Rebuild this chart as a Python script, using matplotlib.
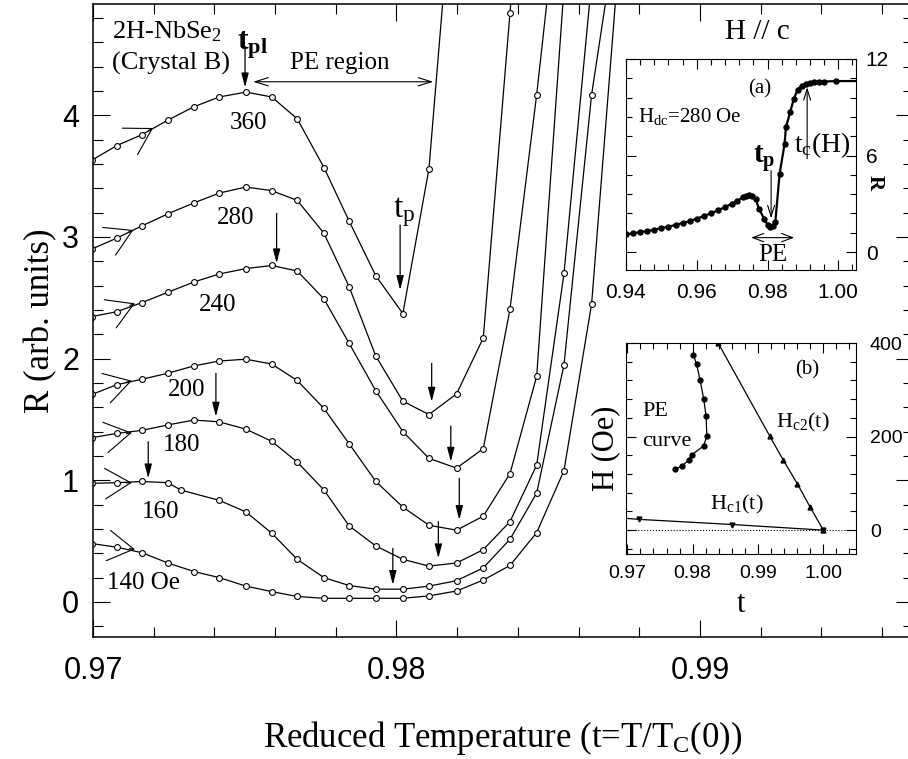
import math
import matplotlib
matplotlib.use('Agg')
import matplotlib.pyplot as plt
from matplotlib.ticker import MultipleLocator

plt.rcParams['font.family'] = ['Liberation Serif', 'DejaVu Serif']
plt.rcParams['mathtext.fontset'] = 'custom'
plt.rcParams['mathtext.rm'] = 'Liberation Serif'
plt.rcParams['mathtext.it'] = 'Liberation Serif:italic'
plt.rcParams['mathtext.bf'] = 'Liberation Serif:bold'
SANS = ['Liberation Sans Narrow', 'Liberation Sans', 'DejaVu Sans']

# main panel: R(t) at several dc fields (Oe)
t_grid = [0.96996, 0.97078, 0.97161, 0.97247, 0.97333, 0.97416, 0.97504,
          0.97589, 0.97673, 0.97761, 0.97844, 0.97932, 0.98021, 0.98107,
          0.98198, 0.98286, 0.98374, 0.98462, 0.98552, 0.98643, 0.98730]
t_160 = [0.96996, 0.97078, 0.97161, 0.97247, 0.97289, 0.97416, 0.97504,
         0.97589, 0.97673, 0.97761, 0.97844, 0.97932, 0.98021, 0.98107,
         0.98198, 0.98286, 0.98374, 0.98462, 0.98552, 0.98643, 0.98730]

r360 = [3.63, 3.75, 3.84, 3.96, 4.07, 4.15, 4.19, 4.15, 3.97, 3.57, 3.13,
        2.68, 2.37, 3.56, 6.3]
r280 = [2.90, 2.99, 3.09, 3.19, 3.28, 3.36, 3.41, 3.38, 3.30, 3.03, 2.59,
        2.02, 1.65, 1.54, 1.71, 2.17, 4.84, 7.5]
r240 = [2.345, 2.385, 2.46, 2.545, 2.63, 2.695, 2.74, 2.765, 2.72, 2.49,
        2.125, 1.735, 1.40, 1.18, 1.10, 1.26, 2.405, 4.17, 6.2]
r200 = [1.705, 1.785, 1.83, 1.88, 1.94, 1.98, 1.995, 1.955, 1.82, 1.59,
        1.30, 0.99, 0.78, 0.63, 0.59, 0.705, 1.055, 1.855, 5.05]
r180 = [1.35, 1.385, 1.41, 1.455, 1.495, 1.48, 1.42, 1.32, 1.15, 0.92,
        0.625, 0.46, 0.35, 0.295, 0.32, 0.43, 0.66, 1.125, 2.70, 5.1]
r160 = [0.975, 0.98, 0.99, 0.98, 0.92, 0.835, 0.74, 0.565, 0.35, 0.20,
        0.135, 0.105, 0.105, 0.13, 0.175, 0.28, 0.515, 0.895, 1.95, 4.17, 5.6]
r140 = [0.48, 0.45, 0.405, 0.32, 0.25, 0.20, 0.13, 0.085, 0.045, 0.03,
        0.03, 0.03, 0.03, 0.05, 0.09, 0.18, 0.30, 0.57, 1.08, 2.45, 5.2]

field_labels = ['360', '280', '240', '200', '180', '160', '140 Oe']
label_t = [0.97514, 0.97471, 0.97412, 0.97310, 0.97293, 0.97224, 0.97168]
label_r = [3.936, 3.155, 2.440, 1.742, 1.290, 0.740, 0.156]

# open arrowheads showing the sweep direction
sweep_t = [0.97198, 0.97133, 0.97138, 0.97128, 0.97128, 0.97128, 0.97138]
sweep_r = [3.895, 3.057, 2.454, 1.818, 1.391, 0.980, 0.433]
sweep_ang = [30, 25, 23, 16, 10, 2, -8]

# small down arrows (t, R start, R end)
mark_t = [0.97501, 0.98012, 0.97605, 0.97405, 0.97182, 0.98116, 0.98179,
          0.98207, 0.98138, 0.97988]
mark_r0 = [4.563, 3.098, 3.194, 1.879, 1.317, 1.961, 1.446, 1.016, 0.660, 0.441]
mark_r1 = [4.229, 2.564, 2.783, 1.523, 1.016, 1.646, 1.153, 0.674, 0.359, 0.140]

# inset (a): R(t) at 280 Oe
ta = [0.9400, 0.9420, 0.9440, 0.9460, 0.9480, 0.9500, 0.9520, 0.9540,
      0.9560, 0.9580, 0.9600, 0.9620, 0.9640, 0.9660, 0.9680, 0.9700,
      0.9715, 0.9730, 0.9740, 0.9748, 0.9756, 0.9766, 0.9776, 0.9790,
      0.9800, 0.9808, 0.9815, 0.9822, 0.9834, 0.9848, 0.9852, 0.9864,
      0.9874, 0.9885, 0.9897, 0.9909, 0.9920, 0.9932, 0.9946, 0.9960,
      0.9994, 1.0050]
ra = [1.10, 1.17, 1.24, 1.31, 1.39, 1.50, 1.58, 1.69, 1.80, 1.93, 2.08,
      2.24, 2.41, 2.60, 2.80, 3.02, 3.20, 3.40, 3.50, 3.56, 3.50, 3.30,
      2.70, 2.08, 1.70, 1.56, 1.62, 1.87, 4.85, 6.70, 7.76, 8.70, 9.50,
      10.10, 10.35, 10.46, 10.52, 10.57, 10.59, 10.60, 10.63, 10.63]

# inset (b): phase diagram
t_pe = [0.97737, 0.97838, 0.97939, 0.97989, 0.98167, 0.98217, 0.98206,
        0.98170, 0.98115, 0.98060, 0.98010]
h_pe = [130, 137, 150, 161, 180, 201, 243, 280, 320, 355, 375]
t_hc2 = [0.98390, 0.99180, 0.99385, 0.99603, 0.99795, 1.0000]
h_hc2 = [400, 201, 150, 99, 50, 0]
t_hc1 = [0.9700, 0.97182, 0.98609, 1.0000]
h_hc1 = [25, 23, 12, 0]

W, H = 908, 759
fig = plt.figure(figsize=(W / 100, H / 100), dpi=100)

# ---------------- main panel ----------------
ax = fig.add_axes([93 / W, 1 - 637 / H, 820 / W, 633 / H])
curves = [(t_grid, r360), (t_grid, r280), (t_grid, r240), (t_grid, r200),
          (t_grid, r180), (t_160, r160), (t_grid, r140)]
for t, r in curves:
    ax.plot(t[:len(r)], r, '-o', color='k', lw=0.9, ms=4.2, mfc='white',
            mew=0.8)

for lab, x, y in zip(field_labels, label_t, label_r):
    ax.text(x, y, lab, fontsize=18, ha='center', va='center')

for x, y, a in zip(sweep_t, sweep_r, sweep_ang):
    dx = -4 * math.cos(math.radians(a))
    dy = -4 * math.sin(math.radians(a))
    ax.annotate('', xy=(x, y), xytext=(dx, dy), textcoords='offset points',
                arrowprops=dict(arrowstyle='->,head_length=1.85,head_width=1.1',
                                lw=0.8, color='k', shrinkA=0, shrinkB=0,
                                mutation_scale=10))

for x, y0, y1 in zip(mark_t, mark_r0, mark_r1):
    ax.annotate('', xy=(x, y1), xytext=(x, y0),
                arrowprops=dict(arrowstyle='-|>,head_length=0.85,head_width=0.22',
                                lw=0.9, color='k', shrinkA=0, shrinkB=0,
                                mutation_scale=10))

ax.annotate('', xy=(0.97528, 4.275), xytext=(0.98121, 4.275),
            arrowprops=dict(arrowstyle='<->,head_length=0.95,head_width=0.3',
                            lw=0.8, color='k', shrinkA=0, shrinkB=0,
                            mutation_scale=10))
ax.text(0.97649, 4.43, 'PE region', fontsize=18, ha='left', va='center')
ax.text(0.97062, 4.686, '2H-NbSe$_2$', fontsize=19, ha='left', va='center')
ax.text(0.97062, 4.426, '(Crystal B)', fontsize=19, ha='left', va='center')
ax.text(0.97473, 4.536, r'$\mathbf{t_{pl}}$', fontsize=23, ha='left',
        va='baseline')
ax.text(0.97989, 3.166, r'$\mathrm{t_p}$', fontsize=24, ha='left',
        va='baseline')

ax.set_xlim(0.97, 0.99702)
ax.set_ylim(-0.288, 4.914)
ax.set_xticks([0.97, 0.98, 0.99])
ax.set_xticklabels(['0.97', '0.98', '0.99'])
ax.set_yticks([0, 1, 2, 3, 4])
ax.xaxis.set_minor_locator(MultipleLocator(0.002))
ax.yaxis.set_minor_locator(MultipleLocator(0.2))
ax.tick_params(which='both', direction='in', top=True, right=True, width=0.8)
ax.tick_params(which='major', length=12, labelsize=22, labelfontfamily=SANS)
ax.tick_params(axis='x', which='major', pad=14)
ax.tick_params(axis='y', which='major', pad=10)
ax.tick_params(which='minor', length=7)
for s in ax.spines.values():
    s.set_linewidth(1.1)
ax.set_xlabel('Reduced Temperature (t=T/T$_{\\mathrm{C}}$(0))', fontsize=25,
              va='center')
ax.xaxis.set_label_coords(0.5, -0.1596)
ax.set_ylabel('R (arb. units)', fontsize=25, va='center')
ax.yaxis.set_label_coords(-0.064, 0.5)

fig.text(757 / W, 1 - 32 / H, 'H // c', fontsize=21, ha='center', va='center')

# ---------------- inset (a) ----------------
axa = fig.add_axes([626 / W, 1 - 269.5 / H, 230 / W, 210.5 / H])
axa.plot(ta, ra, '-o', color='k', lw=1.6, ms=3.6,
         markevery=list(range(len(ta) - 1)))
axa.set_xlim(0.94, 1.005)
axa.set_ylim(-1.08, 12.0)
axa.set_xticks([0.94, 0.96, 0.98, 1.00])
axa.set_xticklabels(['0.94', '0.96', '0.98', '1.00'])
axa.set_yticks([0, 6, 12])
axa.xaxis.set_minor_locator(MultipleLocator(0.004))
axa.yaxis.set_minor_locator(MultipleLocator(1.2))
axa.tick_params(which='both', direction='in', top=True, right=True,
                labelleft=False, labelright=True, width=0.8)
axa.tick_params(which='major', length=7, labelsize=15, labelfontfamily=SANS)
axa.tick_params(axis='x', which='major', pad=10)
axa.tick_params(axis='y', which='major', pad=7)
axa.tick_params(which='minor', length=4)

axa.text(0.97776, 10.12, '(a)', fontsize=15, ha='center', va='center')
axa.text(0.94336, 8.40, r'H$_{\mathrm{dc}}$=280 Oe', fontsize=15, ha='left',
         va='center')
axa.text(0.97580, 5.56, r'$\mathbf{t_p}$', fontsize=21, ha='left',
         va='baseline')
axa.text(0.98755, 6.20, r'$\mathrm{t_c}$(H)', fontsize=20, ha='left',
         va='baseline')
axa.text(0.98140, -0.15, 'PE', fontsize=18, ha='center', va='center')
axa.annotate('', xy=(0.98101, 2.10), xytext=(0.98101, 5.06),
             arrowprops=dict(arrowstyle='->,head_length=0.8,head_width=0.25',
                             lw=0.8, color='k', shrinkA=0, shrinkB=0,
                             mutation_scale=10))
axa.annotate('', xy=(0.99119, 10.25), xytext=(0.99119, 5.80),
             arrowprops=dict(arrowstyle='->,head_length=0.8,head_width=0.25',
                             lw=0.8, color='k', shrinkA=0, shrinkB=0,
                             mutation_scale=10))
axa.annotate('', xy=(0.97536, 0.90), xytext=(0.98755, 0.90),
             arrowprops=dict(arrowstyle='<->,head_length=0.8,head_width=0.3',
                             lw=0.8, color='k', shrinkA=0, shrinkB=0,
                             mutation_scale=10))
fig.text(875 / W, 1 - 183 / H, 'R', fontsize=15, fontweight='bold',
         rotation=-90, ha='center', va='center')

# ---------------- inset (b) ----------------
axb = fig.add_axes([626 / W, 1 - 554 / H, 230 / W, 211 / H])
axb.axhline(0, color='k', lw=0.8, ls=':')
axb.plot(t_pe, h_pe, '-o', color='k', lw=0.9, ms=3.5)
axb.plot(t_hc2, h_hc2, '-^', color='k', lw=0.9, ms=3.5)
axb.plot(t_hc1, h_hc1, '-v', color='k', lw=0.9, ms=3.5, markevery=[1, 2, 3])
axb.set_xlim(0.9698, 1.0050)
axb.set_ylim(-51, 400)
axb.set_xticks([0.97, 0.98, 0.99, 1.00])
axb.set_xticklabels(['0.97', '0.98', '0.99', '1.00'])
axb.set_yticks([0, 200, 400])
axb.xaxis.set_minor_locator(MultipleLocator(0.002))
axb.yaxis.set_minor_locator(MultipleLocator(40))
axb.tick_params(which='both', direction='in', top=True, right=True,
                labelleft=False, labelright=True, width=0.8)
axb.tick_params(which='major', length=7, labelsize=14, labelfontfamily=SANS)
axb.tick_params(axis='x', which='major', pad=8)
axb.tick_params(axis='y', which='major', pad=10)
axb.tick_params(which='minor', length=4)
axb.set_xlabel('t', fontsize=22, va='center')
axb.xaxis.set_label_coords(0.5, -0.2417)
axb.set_ylabel('H (Oe)', fontsize=22, va='center')
axb.yaxis.set_label_coords(-0.087, 0.5)

axb.text(0.99747, 343, '(b)', fontsize=15, ha='center', va='center')
axb.text(0.97232, 253, 'PE', fontsize=16, ha='left', va='center')
axb.text(0.97232, 189, 'curve', fontsize=16, ha='left', va='center')
axb.text(0.99277, 231, r'H$_{\mathrm{c2}}$(t)', fontsize=16, ha='left',
         va='center')
axb.text(0.98262, 54, r'H$_{\mathrm{c1}}$(t)', fontsize=16, ha='left',
         va='center')

fig.savefig('out.png', dpi=100)
